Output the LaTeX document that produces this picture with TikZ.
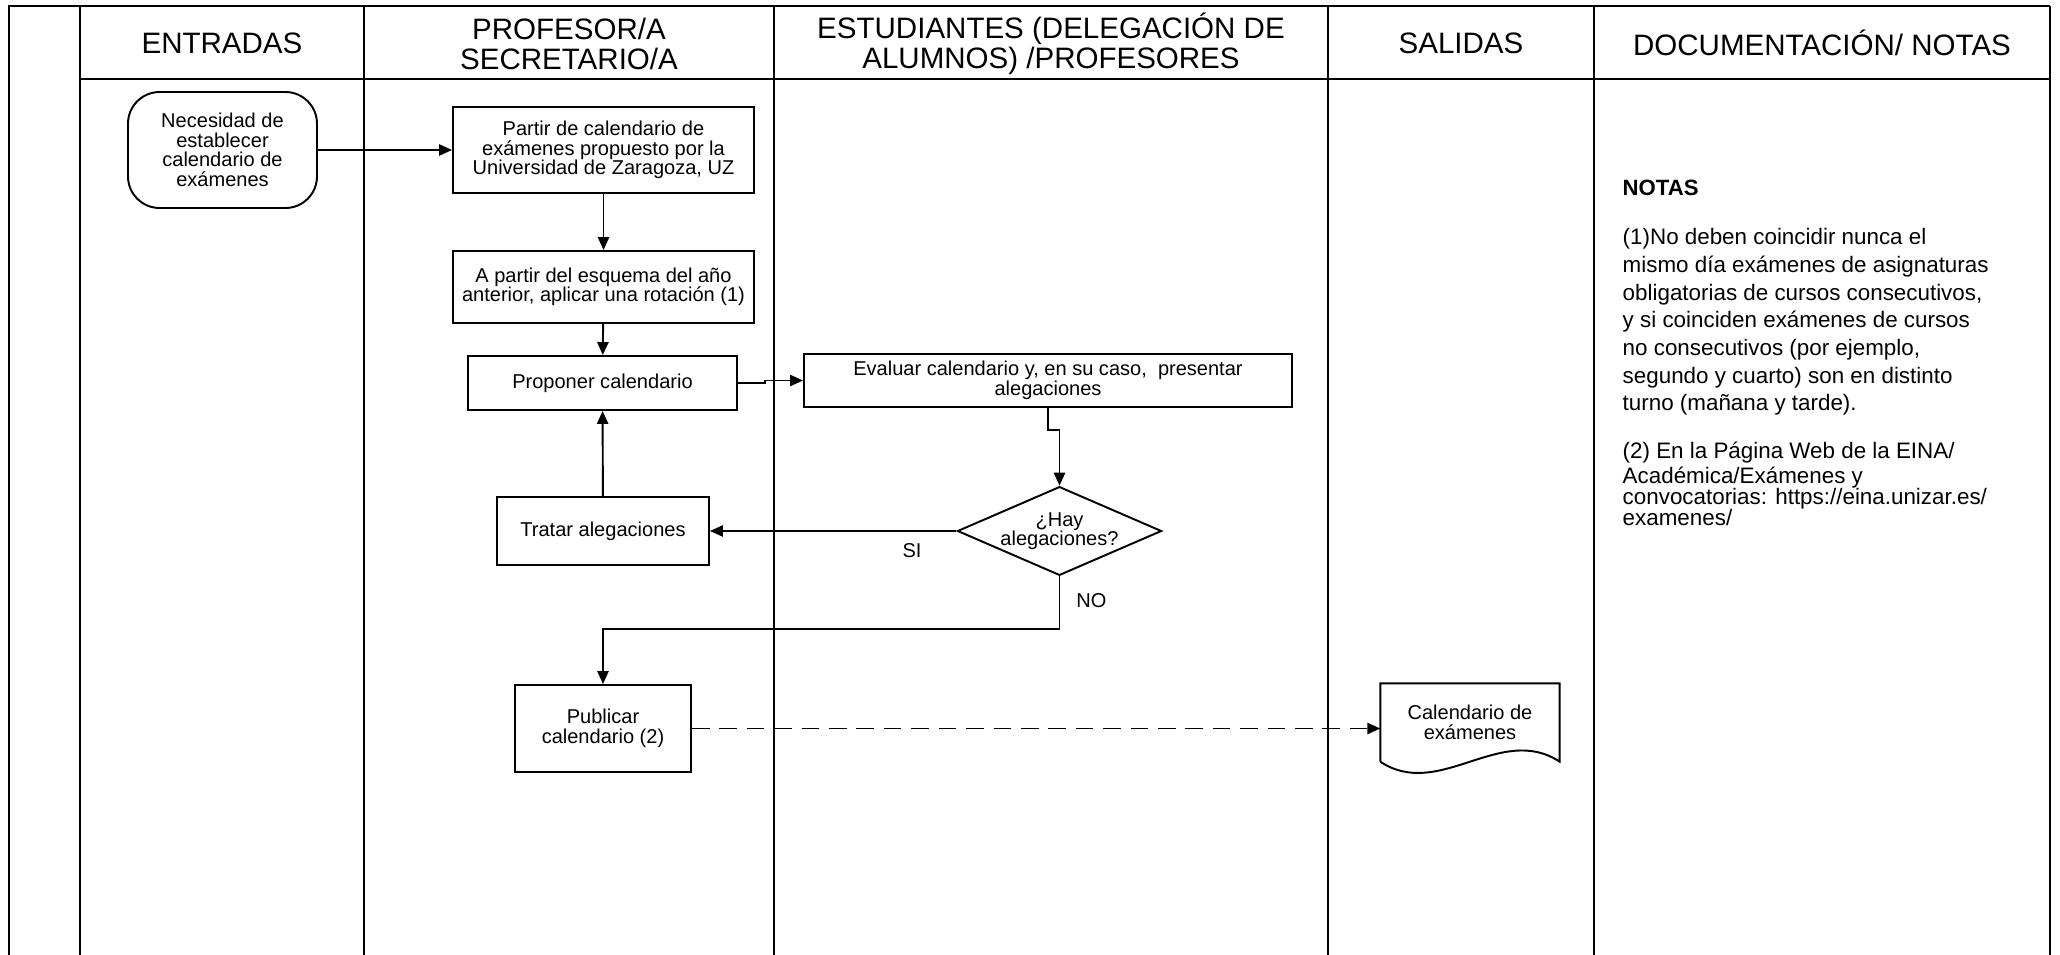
\documentclass[tikz,border=0pt]{standalone}
\usepackage{fontspec}
\setmainfont{Liberation Sans}
\usetikzlibrary{arrows.meta,shapes.geometric}

\begin{document}
\begin{tikzpicture}[
  every node/.style={font=\fontsize{5.7}{5.55}\selectfont, align=center, inner sep=1pt},
  proc/.style={draw, line width=0.55pt},
  term/.style={draw, rounded corners=9pt, line width=0.55pt},
  decision/.style={draw, diamond, shape aspect=2.3, inner sep=0pt, line width=0.55pt},
  head/.style={font=\fontsize{8.4}{8.5}\selectfont},
  note/.style={anchor=west, align=left, font=\fontsize{6.37}{7.88}\selectfont},
  flow/.style={-{Triangle[length=3.7pt,width=3.2pt]}, line width=0.55pt},
  lane/.style={line width=0.6pt},
  >=stealth
]
  \useasboundingbox (0,0) rectangle (20.6,-9.55);

  % table
  \draw[lane] (0.09,-9.55) -- (0.09,-0.06) -- (20.50,-0.06);
  \draw[lane] (0.80,-0.79) -- (20.50,-0.79);
  \foreach \x in {0.80,3.64,7.74,13.28,15.94,20.50}
    \draw[lane] (\x,-0.06) -- (\x,-9.55);

  \node[head] (hin)   at (2.22,-0.43)  {ENTRADAS};
  \node[head] (hprof) at (5.69,-0.44)  {PROFESOR/A\\SECRETARIO/A};
  \node[head] (hest)  at (10.51,-0.44) {ESTUDIANTES (DELEGACIÓN DE\\ALUMNOS) /PROFESORES};
  \node[head] (hout)  at (14.61,-0.43) {SALIDAS};
  \node[head] (hdoc)  at (18.22,-0.43) {DOCUMENTACIÓN/ NOTAS};

  % flow
  \node[term, minimum width=1.89cm, minimum height=1.16cm] (need) at (2.225,-1.50)
    {Necesidad de\\establecer\\calendario de\\exámenes};
  \node[proc, minimum width=3.01cm, minimum height=0.86cm] (uz) at (6.035,-1.50)
    {Partir de calendario de\\exámenes propuesto por la\\Universidad de Zaragoza, UZ};
  \node[proc, minimum width=3.01cm, minimum height=0.72cm] (rot) at (6.035,-2.87)
    {A partir del esquema del año\\anterior, aplicar una rotación (1)};
  \node[proc, minimum width=2.69cm, minimum height=0.54cm] (prop) at (6.025,-3.83)
    {Proponer calendario};
  \node[proc, minimum width=4.88cm, minimum height=0.53cm] (eval) at (10.48,-3.805)
    {Evaluar calendario y, en su caso,\ \ presentar\\alegaciones};
  \node[decision] (hay) at (10.595,-5.31) {¿Hay\\alegaciones?};
  \node[proc, minimum width=2.12cm, minimum height=0.68cm] (trat) at (6.03,-5.31)
    {Tratar alegaciones};
  \node[proc, minimum width=1.76cm, minimum height=0.87cm] (pub) at (6.03,-7.285)
    {Publicar\\calendario (2)};
  \node[minimum width=1.78cm, minimum height=0.77cm] (cal) at (14.70,-7.225)
    {Calendario de\\exámenes};
  \draw[line width=0.55pt] (cal.south west) -- (cal.north west) -- (cal.north east) -- (cal.south east)
    .. controls +(-0.59,0.39) and +(0.59,-0.39) .. (cal.south west);

  \draw[flow] (need) -- (uz);
  \draw[flow] (uz) -- (rot);
  \draw[flow] (rot) -- (prop);
  \draw[flow] (prop.east) -- ++(0.27,0) |- (eval.west);
  \draw[flow] (eval.south) -- ++(0,-0.22) -| (hay.north);
  \draw[flow] (hay.west) -- node[pos=0.18, below=2.4pt] {SI} (trat.east);
  \draw[flow] (trat) -- (prop);
  \draw[flow] (hay.south) -- node[pos=0.45, right=3.5pt] {NO} ++(0,-0.53) -| (pub.north);
  \draw[flow, dash pattern=on 5pt off 2.8pt] (pub.east) -- (pub.east -| cal.west);

  % notes
  \node[note, font=\bfseries\fontsize{6.3}{7.9}\selectfont] (ntitle) at (16.185,-1.88) {NOTAS};
  \node[note] (nota1) at (16.185,-3.22)
    {(1)No deben coincidir nunca el\\mismo día exámenes de asignaturas\\obligatorias de cursos consecutivos,\\y si coinciden exámenes de cursos\\no consecutivos (por ejemplo,\\segundo y cuarto) son en distinto\\turno (mañana y tarde).};
  \node[note, font=\fontsize{6.37}{5.97}\selectfont] (nota2) at (16.185,-4.84)
    {(2) En la Página Web de la EINA/\\Académica/Exámenes y\\convocatorias: https://eina.unizar.es/\\examenes/};
\end{tikzpicture}
\end{document}
